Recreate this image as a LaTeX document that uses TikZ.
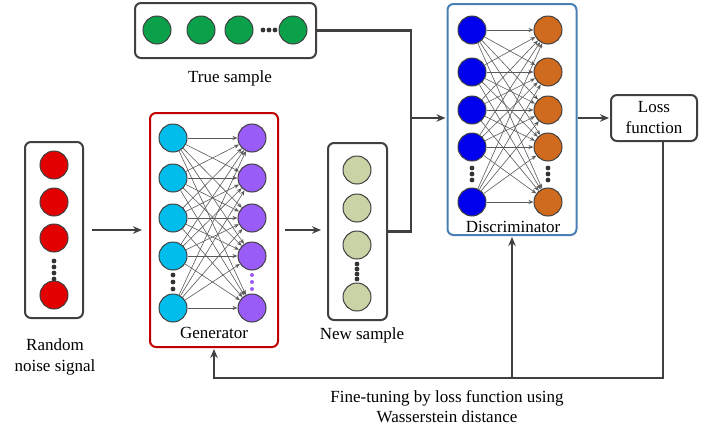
\documentclass[tikz,border=0pt]{standalone}
\usepackage{fontspec}
\setmainfont{Liberation Serif}
\usetikzlibrary{arrows.meta}
\definecolor{realgreen}{HTML}{0BA04A}
\definecolor{gencyan}{HTML}{00BDEB}
\definecolor{genpurple}{HTML}{9A5CF6}
\definecolor{noisered}{HTML}{E20000}
\definecolor{fakepale}{HTML}{C9D3A5}
\definecolor{discblue}{HTML}{0000EE}
\definecolor{discorange}{HTML}{CF6A1F}
\definecolor{genframe}{HTML}{C00000}
\definecolor{discframe}{HTML}{4A7FB5}
\definecolor{ink}{HTML}{404040}
\begin{document}
\begin{tikzpicture}[x=1pt,y=-1pt,
  neuron/.style={circle, draw=ink, line width=1pt, minimum size=28pt, inner sep=0pt},
  holder/.style={draw=ink, line width=2pt, rounded corners=6pt, inner sep=0pt},
  link/.style={draw=ink, line width=2.1pt},
  flow/.style={link, -{Stealth[length=9pt,width=7.5pt]}},
  synapse/.style={draw=black!65, line width=0.6pt, -{Stealth[length=5pt,width=4pt]}},
  caption/.style={font=\fontsize{17}{21}\selectfont, align=center, inner sep=0pt},
  dot/.style={circle, fill=#1, inner sep=0pt, minimum size=4.8pt},
  dot/.default=black!80]
\useasboundingbox (0,0) rectangle (706,429);

% ---- frames ----
\node[holder, minimum width=181pt, minimum height=55pt] (truebox) at (225.5,30.5) {};
\node[holder, minimum width=58pt, minimum height=176pt] (noisebox) at (54,230) {};
\node[holder, draw=genframe, minimum width=128pt, minimum height=234pt] (genbox) at (214,230) {};
\node[holder, minimum width=59pt, minimum height=177pt] (newbox) at (357.5,231.5) {};
\node[holder, draw=discframe, minimum width=129pt, minimum height=231pt] (discbox) at (512,119.5) {};
\node[holder, minimum width=86pt, minimum height=46pt, caption] (lossbox) at (654,118) {Loss\\function};

% ---- true sample ----
\foreach \x [count=\i] in {157,201,239,293}
  \node[neuron, fill=realgreen] (t\i) at (\x,30) {};
\foreach \x [count=\i] in {263,269,275}
  \node[dot] (td\i) at (\x,30) {};

% ---- random noise ----
\foreach \y [count=\i] in {165,202,238,295}
  \node[neuron, fill=noisered] (n\i) at (54,\y) {};
\foreach \y [count=\i] in {261,267,273,279}
  \node[dot] (nd\i) at (54,\y) {};

% ---- new sample ----
\foreach \y [count=\i] in {170,208,245,297}
  \node[neuron, fill=fakepale] (s\i) at (357,\y) {};
\foreach \y [count=\i] in {264,269,274,279}
  \node[dot] (sd\i) at (357,\y) {};

% ---- generator ----
\foreach \y [count=\i] in {138,178,218,256,308} {
  \node[neuron, fill=gencyan] (gl\i) at (173,\y) {};
  \node[neuron, fill=genpurple] (gr\i) at (252,\y) {};
}
\foreach \y [count=\i] in {275,282,289} {
  \node[dot] (gld\i) at (173,\y) {};
  \node[dot=genpurple, minimum size=4pt] (grd\i) at (252,\y) {};
}
\foreach \i in {1,...,5}
  \foreach \j in {1,...,5}
    \draw[synapse] (gl\i) -- (gr\j);

% ---- discriminator ----
\foreach \y [count=\i] in {30,72,110,147,202} {
  \node[neuron, fill=discblue] (dl\i) at (472,\y) {};
  \node[neuron, fill=discorange] (dr\i) at (548,\y) {};
}
\foreach \y [count=\i] in {168,174,180} {
  \node[dot] (dld\i) at (472,\y) {};
  \node[dot] (drd\i) at (548,\y) {};
}
\foreach \i in {1,...,5}
  \foreach \j in {1,...,5}
    \draw[synapse] (dl\i) -- (dr\j);

% ---- captions ----
\node[caption] (truelbl) at (230,78) {True sample};
\node[caption] (noiselbl) at (55,357) {Random\\noise signal};
\node[caption] (genlbl) at (214,333) {Generator};
\node[caption] (newlbl) at (362,335) {New sample};
\node[caption] (disclbl) at (513,227) {Discriminator};
\node[caption, font=\fontsize{17}{20}\selectfont] (tunelbl) at (447,407) {Fine-tuning by loss function using\\Wasserstein distance};

% ---- data flow ----
\coordinate (merge) at (411,118);
\coordinate (feedback) at (663,378);
\draw[flow, shorten <=8pt, shorten >=7pt] (noisebox.east) -- (noisebox.east -| genbox.west);
\draw[flow, shorten <=6pt, shorten >=6pt] (genbox.east) -- (genbox.east -| newbox.west);
\draw[link] (newbox.east) -| (merge);
\draw[link] (truebox.east) -| (merge);
\draw[flow, shorten >=1pt] (merge) -- (merge -| discbox.west);
\draw[flow, shorten >=1pt] (discbox.east |- lossbox.west) -- (lossbox.west);
\draw[flow, shorten >=1pt] (lossbox.south -| feedback) -- (feedback) -| (genbox.south);
\draw[flow, shorten >=1pt] (discbox.south |- feedback) -- (discbox.south);
\end{tikzpicture}
\end{document}
